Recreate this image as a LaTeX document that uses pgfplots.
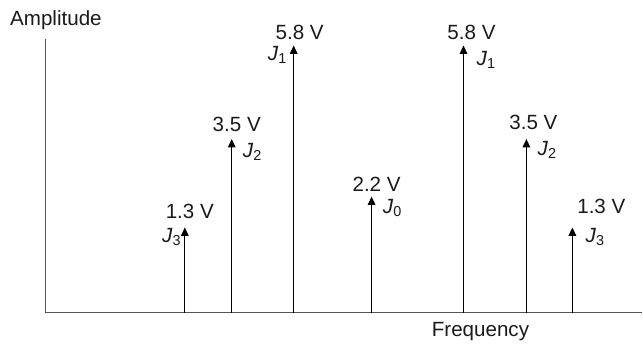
\documentclass[border=0pt]{standalone}
\usepackage{pgfplots}
\pgfplotsset{compat=1.18}
\usepackage{pgfplotstable}
\usepackage{fontspec}
\setmainfont{Liberation Sans}
\usetikzlibrary{arrows.meta}

\definecolor{axisgray}{HTML}{555555}
\definecolor{ink}{HTML}{1A1A1A}

% spectral lines: position (arbitrary frequency units), drawn height
\pgfplotstableread{
f      h
139.5  1.85
186.5  3.77
248.5  5.80
326.5  2.52
418.5  5.80
481.5  3.77
527.5  1.85
}\spectrum

\begin{document}
\begin{tikzpicture}[font=\fontsize{10.3}{12.4}\selectfont, text=ink]
\begin{axis}[
    x=0.5pt, y=23.06pt,
    xmin=0, xmax=597.5,
    ymin=0, ymax=5.94,
    axis x line*=bottom,
    axis y line*=left,
    axis line style={-, draw=axisgray, line width=0.7pt},
    xtick=\empty, ytick=\empty,
    clip=false,
]
\addplot[quiver={u=0, v=\thisrow{h}}, black, line width=0.6pt,
    -{Triangle[width=3.8pt,length=4.2pt]}]
    table[x=f, y expr=0] {\spectrum};

% amplitudes and Bessel orders
\node at (axis cs:144.5,2.19) {1.3 V};
\node at (axis cs:126.5,1.65) {\textit{J}\textsubscript{3}};
\node at (axis cs:191.5,4.08) {3.5 V};
\node at (axis cs:207.5,3.49) {\textit{J}\textsubscript{2}};
\node at (axis cs:254.5,6.09) {5.8 V};
\node at (axis cs:232.5,5.59) {\textit{J}\textsubscript{1}};
\node at (axis cs:331.5,2.78) {2.2 V};
\node at (axis cs:347.5,2.28) {\textit{J}\textsubscript{0}};
\node at (axis cs:426.5,6.09) {5.8 V};
\node at (axis cs:441.5,5.48) {\textit{J}\textsubscript{1}};
\node at (axis cs:488.5,4.14) {3.5 V};
\node at (axis cs:502.5,3.53) {\textit{J}\textsubscript{2}};
\node at (axis cs:556.5,2.30) {1.3 V};
\node at (axis cs:550.5,1.65) {\textit{J}\textsubscript{3}};

\node at (axis cs:10.5,6.35) {Amplitude};
\node at (axis cs:435.5,-0.41) {Frequency};

\path (axis cs:-45.5,-0.672) rectangle (axis cs:597.5,6.787);
\end{axis}
\end{tikzpicture}
\end{document}
